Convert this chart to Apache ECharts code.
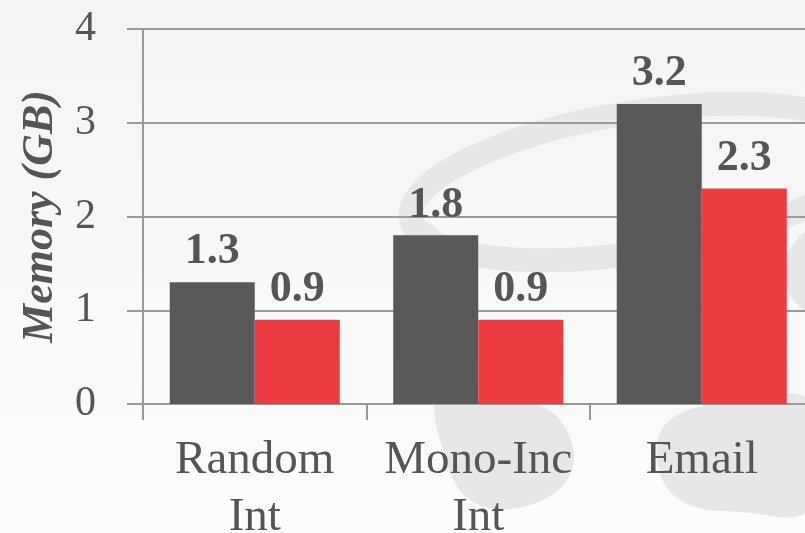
<!DOCTYPE html>
<html>
<head>
<meta charset="utf-8">
<script src="https://cdn.jsdelivr.net/npm/echarts@6/dist/echarts.min.js"></script>
<style>
  html, body { margin: 0; padding: 0; }
  #chart { width: 805px; height: 533px; }
</style>
</head>
<body>
<div id="chart"></div>
<script>
// Memory footprint per key type, two configurations side by side
const categories = ['Random\nInt', 'Mono-Inc\nInt', 'Email'];
const baselineMemory = [1.3, 1.8, 3.2];
const compactMemory = [0.9, 0.9, 2.3];
const yTickValues = [0, 1, 2, 3, 4];

const SERIF = '"Liberation Serif", "DejaVu Serif", serif';
const TEXT = '#555555';
const GRID_LINE = '#9a9a9a';

const chart = echarts.init(document.getElementById('chart'), null, { renderer: 'canvas' });

// faint background logo shapes
const logoColor = '#e7e7e7';
const backdrop = [
  {
    type: 'ellipse', z: -10, silent: true,
    shape: { cx: 640, cy: 182, rx: 232, ry: 70 },
    originX: 640, originY: 182,
    rotation: 9 * Math.PI / 180 * -1 * -1,
    style: { fill: null, stroke: logoColor, lineWidth: 24 }
  },
  {
    type: 'polygon', z: -10, silent: true,
    shape: {
      smooth: 0.4,
      points: [[416, 222], [424, 300], [432, 380], [440, 440], [470, 500], [530, 505], [572, 470], [560, 420], [515, 395], [470, 370], [452, 300], [446, 240]]
    },
    style: { fill: logoColor }
  },
  {
    type: 'polygon', z: -10, silent: true,
    shape: {
      smooth: 0.4,
      points: [[810, 402], [730, 402], [670, 420], [657, 460], [680, 500], [740, 512], [810, 508]]
    },
    style: { fill: logoColor }
  },
  {
    type: 'polygon', z: -10, silent: true,
    shape: {
      smooth: 0.4,
      points: [[810, 232], [790, 250], [786, 280], [795, 302], [810, 312]]
    },
    style: { fill: logoColor }
  }
];

const option = {
  backgroundColor: {
    type: 'linear', x: 0, y: 0, x2: 0, y2: 1,
    colorStops: [
      { offset: 0, color: '#f4f4f4' },
      { offset: 1, color: '#fcfcfc' }
    ]
  },
  animation: false,
  graphic: backdrop,
  grid: {
    left: 143, top: 29, bottom: 129, right: -8.5,
    containLabel: false,
    outerBoundsMode: 'none'
  },
  xAxis: {
    type: 'category',
    data: categories,
    boundaryGap: true,
    axisLine: { show: true, lineStyle: { color: GRID_LINE, width: 2 } },
    axisTick: { show: true, length: 16, alignWithLabel: false, lineStyle: { color: GRID_LINE, width: 2 } },
    axisLabel: {
      margin: 28,
      fontFamily: SERIF,
      fontSize: 47,
      lineHeight: 57,
      color: TEXT,
      interval: 0
    }
  },
  yAxis: {
    type: 'value',
    min: yTickValues[0],
    max: yTickValues[yTickValues.length - 1],
    interval: 1,
    name: 'Memory (GB)',
    nameLocation: 'middle',
    nameGap: 80,
    nameRotate: 90,
    nameTextStyle: {
      fontFamily: SERIF,
      fontSize: 44,
      fontStyle: 'italic',
      fontWeight: 'bold',
      color: TEXT
    },
    axisLine: { show: true, lineStyle: { color: GRID_LINE, width: 2 } },
    axisTick: { show: true, length: 16, inside: false, lineStyle: { color: GRID_LINE, width: 2 } },
    splitLine: { show: true, lineStyle: { color: GRID_LINE, width: 2 } },
    axisLabel: {
      margin: 47,
      fontFamily: SERIF,
      fontSize: 42,
      color: TEXT
    }
  },
  series: [
    {
      name: 'Baseline',
      type: 'bar',
      data: baselineMemory,
      barWidth: 85,
      barGap: '0%',
      itemStyle: { color: '#595959' },
      label: {
        show: true,
        position: 'top',
        distance: 8,
        fontFamily: SERIF,
        fontWeight: 'bold',
        fontSize: 44,
        color: TEXT
      }
    },
    {
      name: 'Compact',
      type: 'bar',
      data: compactMemory,
      barWidth: 85,
      barGap: '0%',
      itemStyle: { color: '#ee3d42' },
      label: {
        show: true,
        position: 'top',
        distance: 8,
        fontFamily: SERIF,
        fontWeight: 'bold',
        fontSize: 44,
        color: TEXT
      }
    }
  ]
};

chart.setOption(option);
</script>
</body>
</html>
